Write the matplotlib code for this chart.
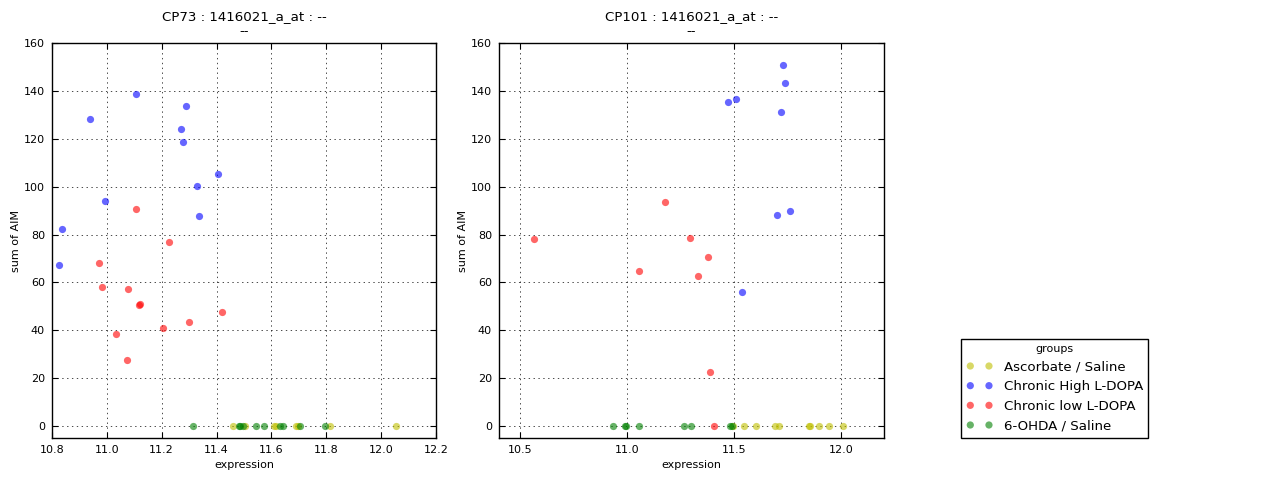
import matplotlib
matplotlib.use("Agg")
import matplotlib.pyplot as plt

groups = ["Ascorbate / Saline", "Chronic High L-DOPA", "Chronic low L-DOPA", "6-OHDA / Saline"]
colors = ["y", "b", "r", "g"]

# Left panel: CP73
cp73_asc_x = [11.461, 11.503, 11.610, 11.616, 11.690, 11.696, 11.812, 12.055]
cp73_asc_y = [0, 0, 0, 0, 0, 0, 0, 0]
cp73_high_x = [11.108, 10.937, 11.288, 11.272, 11.279, 11.406, 11.330, 10.993, 11.335, 10.835, 10.824]
cp73_high_y = [138.6, 128.2, 133.6, 124.0, 118.6, 105.3, 100.3, 94.0, 87.8, 82.4, 67.1]
cp73_low_x = [11.108, 11.228, 10.970, 10.984, 11.079, 11.119, 11.122, 11.421, 11.301, 11.206, 11.032, 11.075]
cp73_low_y = [90.7, 76.9, 67.9, 57.9, 57.1, 50.6, 51.0, 47.5, 43.3, 40.8, 38.3, 27.5]
cp73_ohda_x = [11.314, 11.481, 11.487, 11.495, 11.545, 11.572, 11.633, 11.641, 11.705, 11.796]
cp73_ohda_y = [0, 0, 0, 0, 0, 0, 0, 0, 0, 0]

# Right panel: CP101
cp101_asc_x = [11.494, 11.547, 11.601, 11.689, 11.710, 11.849, 11.856, 11.896, 11.943, 12.008]
cp101_asc_y = [0, 0, 0, 0, 0, 0, 0, 0, 0, 0]
cp101_high_x = [11.727, 11.737, 11.470, 11.508, 11.717, 11.699, 11.760, 11.536]
cp101_high_y = [150.7, 143.2, 135.3, 136.5, 131.1, 88.2, 89.9, 55.8]
cp101_low_x = [11.176, 10.564, 11.293, 11.056, 11.377, 11.330, 11.389, 11.405]
cp101_low_y = [93.6, 78.2, 78.6, 64.6, 70.8, 62.5, 22.5, 0]
cp101_ohda_x = [10.932, 10.990, 10.994, 11.053, 11.267, 11.300, 11.480, 11.488]
cp101_ohda_y = [0, 0, 0, 0, 0, 0, 0, 0]

panels = [
    ("CP73 : 1416021_a_at : --\n--",
     [(cp73_asc_x, cp73_asc_y), (cp73_high_x, cp73_high_y), (cp73_low_x, cp73_low_y), (cp73_ohda_x, cp73_ohda_y)],
     (10.8, 12.2), [10.8, 11.0, 11.2, 11.4, 11.6, 11.8, 12.0, 12.2]),
    ("CP101 : 1416021_a_at : --\n--",
     [(cp101_asc_x, cp101_asc_y), (cp101_high_x, cp101_high_y), (cp101_low_x, cp101_low_y), (cp101_ohda_x, cp101_ohda_y)],
     (10.4, 12.2), [10.5, 11.0, 11.5, 12.0]),
]

plt.rcParams["font.family"] = ["DejaVu Sans"]
plt.rcParams["font.size"] = 8

fig = plt.figure(figsize=(12.8, 4.8), dpi=100)
fig.patch.set_facecolor("white")
positions = [[0.0406, 0.0875, 0.3, 0.8229], [0.3898, 0.0875, 0.3008, 0.8229]]

axes = []
for pos, (title, series, xlim, xticks) in zip(positions, panels):
    ax = fig.add_axes(pos)
    handles = []
    for (xs, ys), c, g in zip(series, colors, groups):
        h = ax.scatter(xs, ys, s=27, c=c, alpha=0.6, linewidths=0, label=g, zorder=3)
        handles.append(h)
    ax.set_xlim(*xlim)
    ax.set_ylim(-5, 160)
    ax.set_xticks(xticks)
    ax.set_yticks(range(0, 161, 20))
    ax.grid(True, color="k", linestyle=(0, (2, 5)), linewidth=0.5)
    ax.tick_params(direction="in", top=True, right=True, labelsize=8, length=4, pad=5)
    for sp in ax.spines.values():
        sp.set_linewidth(1.0)
        sp.set_color("k")
    ax.set_title(title, fontsize=9.6, pad=6)
    ax.set_xlabel("expression", fontsize=8)
    ax.set_ylabel("sum of AIM", fontsize=8, labelpad=2)
    axes.append((ax, handles))

ax2, handles = axes[1]
leg = ax2.legend(handles=handles, labels=groups, title="groups", loc="lower left",
                 bbox_to_anchor=(1.2, 0.0), borderaxespad=0.0, scatterpoints=2,
                 scatteryoffsets=[0.5], fontsize=9.6, title_fontsize=8,
                 fancybox=False, framealpha=1.0, edgecolor="k", handlelength=2.0,
                 labelspacing=0.5)
leg.get_frame().set_linewidth(1.0)

fig.savefig("out.png", dpi=100, facecolor="white")
